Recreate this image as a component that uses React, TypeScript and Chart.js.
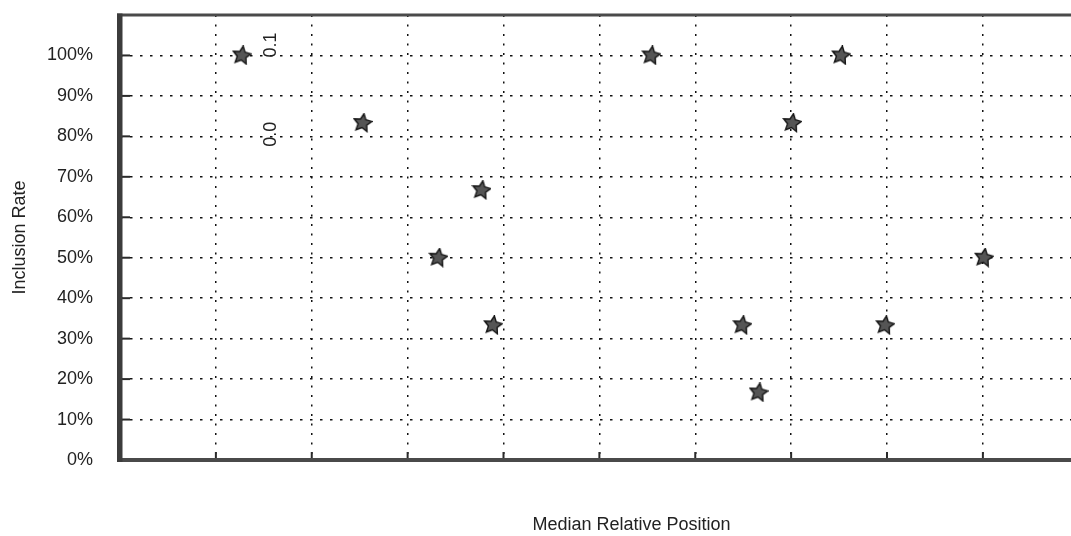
import { useEffect, useRef } from 'react';
import { Chart, registerables } from 'chart.js';

Chart.register(...registerables);

// Median relative position (x) and inclusion rate (y) of each marker
const positions = [1.27, 2.53, 3.32, 3.77, 3.89, 5.54, 6.49, 6.66, 7.01, 7.52, 7.98, 9.01];
const inclusionRates = [1, 0.833, 0.5, 0.667, 0.333, 1, 0.333, 0.167, 0.833, 1, 0.333, 0.5];

// Axis extents / ticks
const xMin = 0;
const xMax = 10.67;
const yMin = 0;
const yMax = 1.1;
const yStep = 0.1;

// Stray rotated labels printed inside the plot
const annotationLabels = ['0.1', '0.0'];
const annotationX = [1.575, 1.575];
const annotationY = [1.026, 0.805];

const FONT = "'Liberation Sans', Arial, Helvetica, sans-serif";

function makeStar(): HTMLCanvasElement {
  const c = document.createElement('canvas');
  c.width = 20;
  c.height = 20;
  const g = c.getContext('2d')!;
  g.beginPath();
  for (let i = 0; i < 10; i++) {
    const r = i % 2 === 0 ? 9.5 : 4.6;
    const a = -Math.PI / 2 + 0.15 + i * (Math.PI / 5);
    const x = 10 + r * Math.cos(a);
    const y = 10 + r * Math.sin(a);
    if (i === 0) g.moveTo(x, y);
    else g.lineTo(x, y);
  }
  g.closePath();
  g.fillStyle = '#555';
  g.fill();
  g.lineWidth = 1.4;
  g.strokeStyle = '#161616';
  g.stroke();
  return c;
}

const framePlugin = {
  id: 'frame',
  afterDraw(chart: any) {
    const { ctx, chartArea } = chart;
    const { left, right, top, bottom } = chartArea;
    const xs = chart.scales.x;
    const ys = chart.scales.y;
    ctx.save();
    // inner tick stubs
    ctx.strokeStyle = '#2a2a2a';
    ctx.lineWidth = 2;
    ys.ticks.forEach((t: any) => {
      if (t.value <= 0 || t.value > 1.05) return;
      const y = ys.getPixelForValue(t.value);
      ctx.beginPath();
      ctx.moveTo(left, y);
      ctx.lineTo(left + 10, y);
      ctx.stroke();
    });
    xs.ticks.forEach((t: any) => {
      if (t.value <= 0) return;
      const x = xs.getPixelForValue(t.value);
      ctx.beginPath();
      ctx.moveTo(x, bottom);
      ctx.lineTo(x, bottom - 8);
      ctx.stroke();
    });
    // frame
    ctx.fillStyle = '#4a4a4a';
    ctx.fillRect(left - 3, top - 1.5, right - left + 3, 3);
    ctx.fillRect(left - 3, bottom - 2, right - left + 3, 4);
    ctx.fillStyle = '#3c3c3c';
    ctx.fillRect(left - 3, top - 1.5, 5.5, bottom - top + 3.5);
    // rotated stray labels
    ctx.fillStyle = '#222';
    ctx.font = `18px ${FONT}`;
    ctx.textAlign = 'center';
    ctx.textBaseline = 'middle';
    annotationLabels.forEach((txt, i) => {
      const x = xs.getPixelForValue(annotationX[i]);
      const y = ys.getPixelForValue(annotationY[i]);
      ctx.save();
      ctx.translate(x, y);
      ctx.rotate(-Math.PI / 2);
      ctx.fillText(txt, 0, 0);
      ctx.restore();
    });
    ctx.restore();
  },
};

export default function App() {
  const canvasRef = useRef<HTMLCanvasElement | null>(null);

  useEffect(() => {
    document.body.style.overflow = 'hidden';
    document.documentElement.style.overflow = 'hidden';
    const canvas = canvasRef.current;
    if (!canvas) return;
    const star = makeStar();
    const chart = new Chart(canvas, {
      type: 'scatter',
      data: {
        datasets: [
          {
            label: 'Inclusion Rate',
            data: positions.map((x, i) => ({ x, y: inclusionRates[i] })),
            pointStyle: star as any,
            pointRadius: 10,
            pointHoverRadius: 10,
            backgroundColor: '#555',
            borderColor: '#161616',
          },
        ],
      },
      options: {
        animation: false,
        responsive: true,
        maintainAspectRatio: false,
        layout: { padding: { top: 15, left: 0, right: 0, bottom: 0 } },
        plugins: {
          legend: { display: false },
          tooltip: { enabled: false },
        },
        scales: {
          x: {
            type: 'linear',
            min: xMin,
            max: xMax,
            ticks: { display: false, stepSize: 1 },
            afterBuildTicks: (scale: any) => {
              scale.ticks = scale.ticks.filter((t: any) => Math.abs(t.value - Math.round(t.value)) < 1e-6);
            },
            afterFit: (scale: any) => {
              scale.height = 76;
              scale.paddingLeft = 0;
              scale.paddingRight = 0;
            },
            grid: { color: '#111', lineWidth: 1.5, drawTicks: false },
            border: { display: false, dash: [2, 7.5] },
            title: {
              display: true,
              text: 'Median Relative Position',
              color: '#222',
              font: { family: FONT, size: 18 },
              padding: { top: 0, bottom: 0 },
            },
          },
          y: {
            type: 'linear',
            min: yMin,
            max: yMax,
            ticks: {
              stepSize: yStep,
              padding: 27,
              color: '#222',
              font: { family: FONT, size: 18 },
              callback: (v: any) => (Number(v) > 1.05 ? '' : Math.round(Number(v) * 100) + '%'),
            },
            afterFit: (scale: any) => {
              scale.width = 120;
              scale.paddingTop = 0;
              scale.paddingBottom = 0;
            },
            grid: { color: '#111', lineWidth: 1.5, drawTicks: false },
            border: { display: false, dash: [2.5, 7.5] },
            title: {
              display: true,
              text: 'Inclusion Rate',
              color: '#222',
              font: { family: FONT, size: 18 },
              padding: { top: 9, bottom: 0 },
            },
          },
        },
      },
      plugins: [framePlugin],
    });
    return () => chart.destroy();
  }, []);

  return (
    <div style={{ position: 'fixed', left: 0, top: 0, width: 1154, height: 536, background: '#fff' }}>
      <canvas ref={canvasRef} />
    </div>
  );
}
